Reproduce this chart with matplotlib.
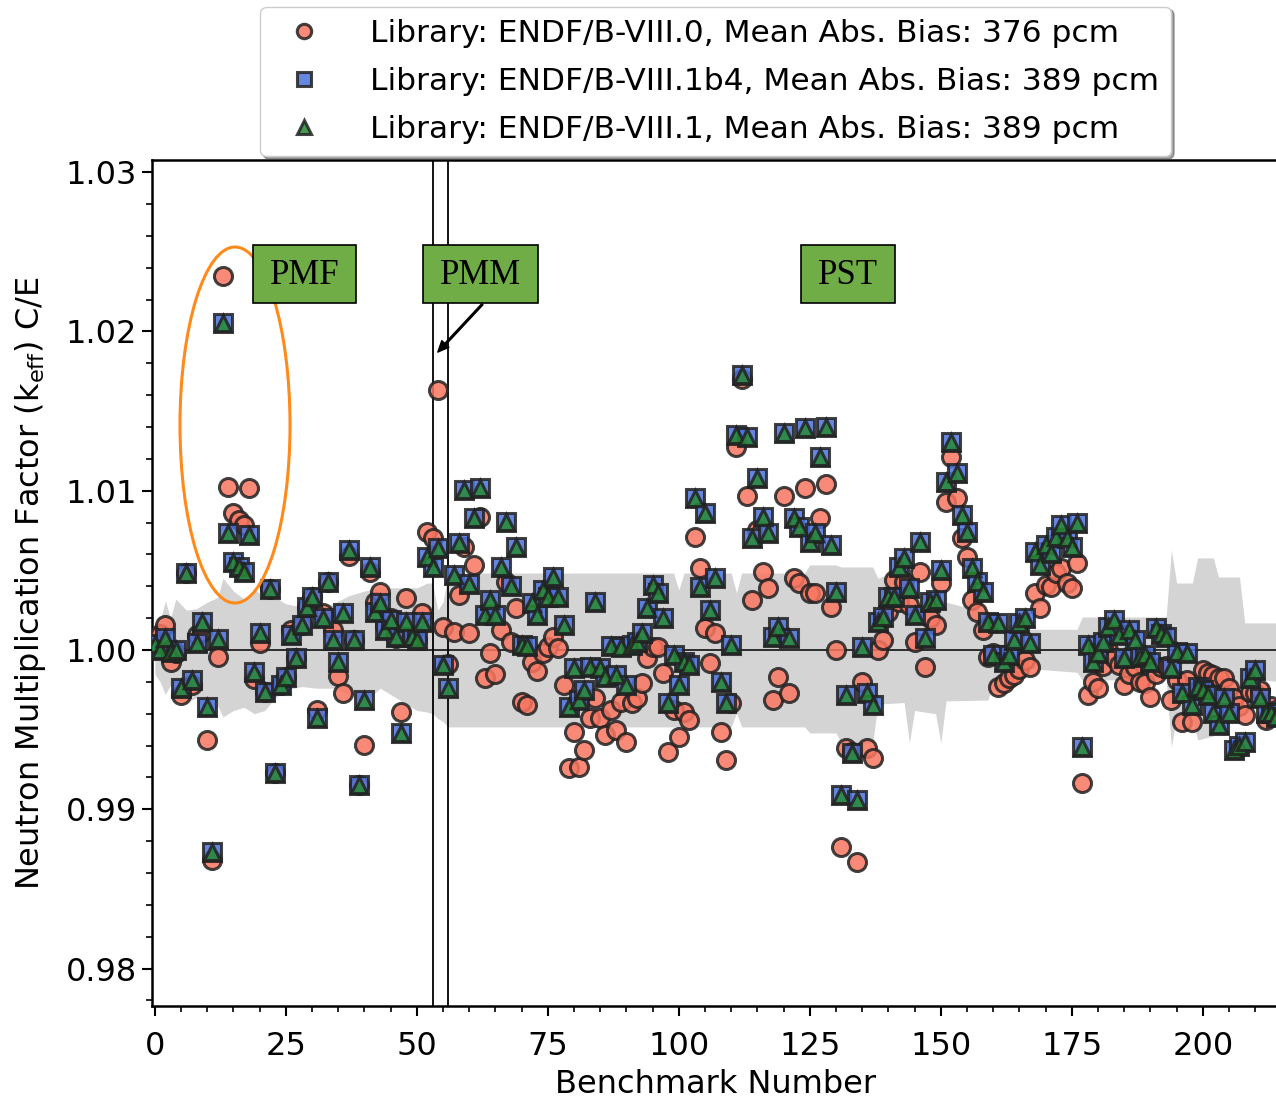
import numpy as np
import matplotlib
matplotlib.use('Agg')
import matplotlib.pyplot as plt
from matplotlib.patches import Ellipse, Rectangle

# C/E per benchmark
endf80 = [
    1.00075, 1.00100, 1.00157, 0.99925, 0.99980, 0.99717, 1.00483, 0.99780, 1.00094, 1.00113,
    0.99435, 0.98681, 0.99956, 1.02349, 1.01024, 1.00860, 1.00816, 1.00785, 1.01017, 0.99818,
    1.00044, 0.99736, 1.00383, 0.99230, 0.99780, 0.99830, 1.00126, 0.99950, 1.00157, 1.00270,
    1.00333, 0.99623, 1.00232, 1.00427, 1.00126, 0.99837, 0.99730, 1.00590, 1.00063, 0.99152,
    0.99403, 1.00490, 1.00300, 1.00364, 1.00150, 1.00200, 1.00075, 0.99611, 1.00327, 1.00082,
    1.00060, 1.00232, 1.00741, 1.00703, 1.01633, 1.00144, 0.99912, 1.00113, 1.00345, 1.00647,
    1.00107, 1.00534, 1.00835, 0.99824, 0.99981, 0.99849, 1.00126, 1.00427, 1.00050, 1.00264,
    0.99673, 0.99655, 0.99925, 0.99868, 0.99981, 1.00019, 1.00082, 1.00013, 0.99780, 0.99259,
    0.99485, 0.99265, 0.99372, 0.99573, 0.99700, 0.99573, 0.99466, 0.99623, 0.99498, 0.99673,
    0.99422, 0.99667, 0.99699, 0.99793, 0.99950, 1.00019, 1.00019, 0.99856, 0.99359, 0.99623,
    0.99454, 0.99611, 0.99560, 1.00710, 1.00515, 1.00138, 0.99918, 1.00107, 0.99485, 0.99309,
    0.99667, 1.01275, 1.01700, 1.00967, 1.00314, 1.00750, 1.00490, 1.00389, 0.99686, 0.99830,
    1.00967, 0.99730, 1.00452, 1.00421, 1.01017, 1.00358, 1.00358, 1.00829, 1.01042, 1.00270,
    1.00000, 0.98763, 0.99385, 0.99360, 0.98669, 0.99800, 0.99385, 0.99322, 1.00000, 1.00063,
    1.00239, 1.00440, 1.00300, 1.00427, 1.00283, 1.00050, 1.00490, 0.99893, 1.00200, 1.00157,
    1.00421, 1.00929, 1.01212, 1.00955, 1.00703, 1.00584, 1.00314, 1.00239, 1.00126, 0.99956,
    0.99980, 0.99768, 0.99793, 0.99824, 0.99843, 0.99880, 0.99940, 0.99893, 1.00358, 1.00264,
    1.00408, 1.00396, 1.00483, 1.00515, 1.00421, 1.00389, 1.00546, 0.99165, 0.99717, 0.99799,
    0.99761, 0.99900, 1.00000, 0.99950, 0.99906, 0.99780, 0.99850, 0.99893, 0.99799, 0.99793,
    0.99705, 0.99850, 0.99893, 0.99900, 0.99686, 0.99812, 0.99548, 0.99812, 0.99548, 0.99750,
    0.99874, 0.99856, 0.99840, 0.99824, 0.99824, 0.99761, 0.99700, 0.99650, 0.99592, 0.99736,
    0.99730, 0.99749, 0.99560, 0.99650, 0.99620,
]

endf81b4 = [
    1.00040, 1.00000, 1.00075, 0.99990, 1.00000, 0.99760, 1.00483, 0.99812, 1.00044, 1.00176,
    0.99642, 0.98732, 1.00069, 1.02054, 1.00735, 1.00553, 1.00521, 1.00490, 1.00722, 0.99862,
    1.00107, 0.99736, 1.00383, 0.99228, 0.99780, 0.99830, 1.00094, 0.99950, 1.00157, 1.00270,
    1.00333, 0.99573, 1.00200, 1.00427, 1.00063, 0.99925, 1.00232, 1.00628, 1.00063, 0.99152,
    0.99686, 1.00521, 1.00239, 1.00295, 1.00126, 1.00188, 1.00082, 0.99479, 1.00176, 1.00082,
    1.00063, 1.00176, 1.00584, 1.00521, 1.00640, 0.99906, 0.99761, 1.00471, 1.00672, 1.01005,
    1.00414, 1.00829, 1.01017, 1.00220, 1.00314, 1.00220, 1.00521, 1.00804, 1.00402, 1.00647,
    1.00031, 1.00025, 1.00295, 1.00220, 1.00377, 1.00333, 1.00458, 1.00333, 1.00157, 0.99642,
    0.99887, 0.99686, 0.99749, 0.99893, 1.00301, 0.99887, 0.99830, 1.00025, 0.99843, 1.00020,
    0.99780, 1.00030, 1.00050, 1.00107, 1.00264, 1.00408, 1.00358, 1.00201, 0.99667, 0.99969,
    0.99780, 0.99925, 0.99906, 1.00955, 1.00396, 1.00860, 1.00251, 1.00452, 0.99799, 0.99667,
    1.00031, 1.01350, 1.01727, 1.01338, 1.00703, 1.01080, 1.00835, 1.00735, 1.00082, 1.00144,
    1.01363, 1.00075, 1.00829, 1.00773, 1.01394, 1.00678, 1.00735, 1.01212, 1.01400, 1.00659,
    1.00364, 0.99090, 0.99717, 0.99353, 0.99058, 1.00019, 0.99730, 0.99655, 1.00176, 1.00207,
    1.00333, 1.00333, 1.00521, 1.00578, 1.00389, 1.00220, 1.00678, 1.00075, 1.00301, 1.00314,
    1.00502, 1.01055, 1.01306, 1.01111, 1.00848, 1.00741, 1.00515, 1.00427, 1.00364, 1.00176,
    0.99969, 1.00170, 0.99925, 0.99969, 1.00063, 1.00170, 1.00201, 1.00044, 1.00615, 1.00534,
    1.00659, 1.00609, 1.00710, 1.00785, 1.00700, 1.00647, 1.00797, 0.99391, 1.00031, 0.99925,
    0.99981, 1.00050, 1.00144, 1.00188, 1.00094, 0.99950, 1.00126, 1.00063, 0.99956, 0.99969,
    0.99925, 1.00138, 1.00100, 1.00082, 0.99887, 0.99987, 0.99730, 0.99981, 0.99655, 0.99768,
    0.99749, 0.99720, 0.99604, 0.99529, 0.99700, 0.99604, 0.99372, 0.99400, 0.99422, 0.99824,
    0.99874, 0.99699, 0.99604, 0.99604, 0.99580,
]

# ENDF/B-VIII.1 coincides with VIII.1b4 at the resolution of the figure
endf81 = list(endf81b4)

bench = np.arange(len(endf80))

# experimental uncertainty band (pcm around 1.0)
band_x = [0, 1, 2, 3, 4, 6, 8, 10, 12, 13, 15, 17, 19, 21, 23, 25, 28, 31, 34, 37,
          40, 43, 46, 50, 52, 53, 54, 55, 56, 99, 100, 101, 110, 111, 112, 124, 125,
          130, 131, 137, 138, 143, 144, 145, 149, 150, 151, 159, 160, 164, 176, 177,
          193, 194, 195, 198, 199, 202, 203, 207, 208, 209, 215]
band_hi = [150, 180, 310, 200, 320, 250, 260, 300, 330, 450, 370, 320, 380, 330, 330,
           290, 270, 250, 290, 340, 370, 390, 390, 390, 420, 420, 250, 300, 483, 483,
           377, 483, 483, 358, 483, 483, 534, 534, 521, 521, 450, 521, 480, 358, 358,
           314, 300, 232, 232, 130, 130, 207, 207, 628, 420, 420, 578, 578, 458, 458,
           170, 170, 170]
band_lo = [-150, -200, -280, -220, -300, -330, -300, -420, -350, -420, -380, -360, -400,
           -380, -300, -250, -230, -240, -240, -280, -330, -240, -300, -380, -390, -400,
           -430, -450, -483, -483, -483, -483, -483, -396, -483, -483, -521, -521, -584,
           -584, -340, -330, -584, -380, -400, -584, -320, -314, -200, -110, -140, -188,
           -188, -609, -420, -420, -565, -540, -440, -440, -314, -180, -200]

labels = ['Library: ENDF/B-VIII.0, Mean Abs. Bias: 376 pcm',
          'Library: ENDF/B-VIII.1b4, Mean Abs. Bias: 389 pcm',
          'Library: ENDF/B-VIII.1, Mean Abs. Bias: 389 pcm']
groups = ['PMF', 'PMM', 'PST']
group_box_x = [(18.7, 38.4), (51.1, 73.1), (123.3, 141.2)]
sep_lines = [53, 56]

plt.rcParams['font.family'] = ['DejaVu Sans']

fig = plt.figure(figsize=(12.76, 11.01), dpi=100)
ax = fig.add_axes([0.119, 0.0863, 0.884, 0.7684])

ax.fill_between(band_x, 1 + np.array(band_lo) * 1e-5, 1 + np.array(band_hi) * 1e-5,
                color='#d4d4d4', lw=0, zorder=1)
ax.axhline(1.0, color='k', lw=1.1, zorder=2)
for xv in sep_lines:
    ax.axvline(xv, color='k', lw=1.3, zorder=2)

mk = dict(ls='none', mec='#222222', mew=2.2, alpha=0.85, zorder=3)
ax.plot(bench, endf80, 'o', ms=13, mfc='#fa7661', label=labels[0], **mk)
ax.plot(bench, endf81b4, 's', ms=12.5, mfc='#4a72dd', label=labels[1], **mk)
ax.plot(bench, endf81, '^', ms=12, mfc='#278a33', label=labels[2], **mk)

# group tags
for name, (x0, x1) in zip(groups, group_box_x):
    ax.add_patch(Rectangle((x0, 1.02178), x1 - x0, 0.00364, fc='#70ad47', ec='black',
                           lw=1.2, zorder=5))
    ax.text((x0 + x1) / 2, 1.0235, name, ha='center', va='center', fontsize=25,
            family='Liberation Serif', zorder=6)

ax.annotate('', xy=(54.0, 1.0187), xytext=(62.5, 1.0217),
            arrowprops=dict(facecolor='black', edgecolor='black', width=1.2,
                            headwidth=7, headlength=8, shrink=0), zorder=6)

ax.add_patch(Ellipse((15.3, 1.01412), 21.0, 0.02235, fill=False, ec='#ff8a1c',
                     lw=2.2, zorder=4))

ax.set_xlim(-0.57, 214.7)
ax.set_ylim(0.97765, 1.03076)
ax.set_xticks(np.arange(0, 201, 25))
ax.set_xticks(np.arange(0, 215, 5), minor=True)
ax.set_yticks([0.98, 0.99, 1.00, 1.01, 1.02, 1.03])
ax.set_yticks(np.arange(0.978, 1.031, 0.002), minor=True)
ax.set_yticklabels(['0.98', '0.99', '1.00', '1.01', '1.02', '1.03'])
ax.tick_params(which='major', labelsize=23, length=7, width=1.5)
ax.tick_params(axis='x', which='major', pad=11)
ax.tick_params(which='minor', length=4, width=1.2)
for s in ax.spines.values():
    s.set_linewidth(1.8)

ax.set_xlabel('Benchmark Number', fontsize=23, labelpad=5)
ax.set_ylabel('Neutron Multiplication Factor (k$_{\\mathrm{eff}}$) C/E', fontsize=23,
              labelpad=13)

leg = ax.legend(loc='lower center', bbox_to_anchor=(0.5, 0.986), fontsize=22.5,
                shadow=True, framealpha=1, markerscale=0.8, labelspacing=0.6,
                handletextpad=1.1, borderpad=0.4)
leg.set_zorder(10)

fig.savefig('out.png', dpi=100)
